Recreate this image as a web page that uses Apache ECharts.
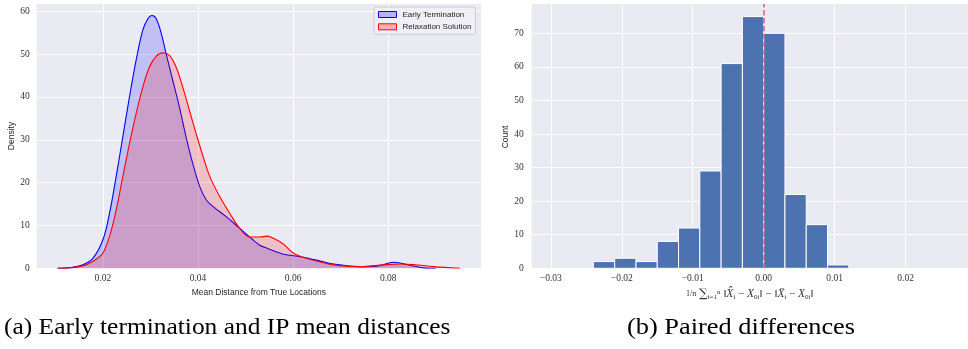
<!DOCTYPE html>
<html>
<head>
<meta charset="utf-8">
<script src="https://cdn.jsdelivr.net/npm/echarts@6/dist/echarts.min.js"></script>
<style>
html,body{margin:0;padding:0;background:#fff;}
#c{width:968px;height:349px;}
</style>
</head>
<body>
<div id="c"></div>
<script>
// ---- Data ----
// KDE of mean distance, Early Termination (blue)
const earlyX = [0.0105,0.0130,0.0158,0.0179,0.0200,0.0214,0.0228,0.0242,0.0256,0.0270,0.0284,0.0295,0.0303,0.0312,0.0323,0.0333,0.0347,0.0361,0.0375,0.0389,0.0404,0.0418,0.0432,0.0460,0.0488,0.0516,0.0530,0.0545,0.0580,0.0615,0.0650,0.0685,0.0741,0.0776,0.0811,0.0846,0.0874,0.0900];
const earlyY = [0,0.15,0.8,2.3,6.6,12.8,21.4,30.7,40,48.6,55.6,58.3,59,58.3,54.8,50.1,43.9,37.7,30.7,24.5,19,15.9,14.4,12,9.3,6.6,5.4,4.7,3.3,2.7,1.9,1.0,0.4,0.5,1.4,0.7,0.1,0];
// KDE of mean distance, Relaxation Solution (red)
const relaxX = [0.0105,0.0137,0.0165,0.0186,0.0200,0.0214,0.0228,0.0242,0.0256,0.0270,0.0284,0.0298,0.0312,0.0326,0.0340,0.0354,0.0368,0.0382,0.0396,0.0411,0.0425,0.0446,0.0467,0.0488,0.0509,0.0530,0.0545,0.0559,0.0580,0.0601,0.0629,0.0685,0.0741,0.0790,0.0825,0.0853,0.0895,0.0951];
const relaxY = [0,0.15,0.8,2.1,3.5,7.4,13.6,21.4,29.1,36.1,42.3,47,49.5,50.3,49.7,47,42.3,36.9,31.5,26,21.4,16.7,12.8,9.3,7.3,7.3,7.5,7.0,5.6,3.5,2.3,0.8,0.4,0.8,1.0,0.9,0.4,0];
// Histogram of paired differences
const binStarts = [-0.024,-0.021,-0.018,-0.015,-0.012,-0.009,-0.006,-0.003,0.000,0.003,0.006,0.009];
const binWidth = 0.003;
const binCounts = [2,3,2,8,12,29,61,75,70,22,13,1];
const refLine = 0;
// Tick values
const leftXTicks = [0.02,0.04,0.06,0.08];
const leftYTicks = [0,10,20,30,40,50,60];
const rightXTicks = [-0.03,-0.02,-0.01,0.00,0.01,0.02];
const rightYTicks = [0,10,20,30,40,50,60,70];
const seriesNames = ['Early Termination','Relaxation Solution'];
const captions = ['(a) Early termination and IP mean distances','(b) Paired differences'];

// ---- Chart ----
const chart = echarts.init(document.getElementById('c'), null, {renderer:'canvas'});
const BG = '#EAEAF2';
const tickFont = {fontFamily:'Liberation Serif', fontSize:9.5, color:'#333'};
const sansFont = 'Liberation Sans';

function pairs(xs, ys){ return xs.map((x,i)=>[x, ys[i]]); }
const histData = binStarts.map((s,i)=>[s, s+binWidth, binCounts[i]]);

function axisX(gridIndex, min, max, ticks, fmt, name, nameGap, nameStyle){
  return {
    type:'value', gridIndex, min, max,
    axisLine:{show:false}, axisTick:{show:false, customValues:ticks},
    splitLine:{show:true, customValues:ticks, lineStyle:{color:'#fff', width:1}},
    axisLabel:Object.assign({customValues:ticks, margin:5, formatter:fmt}, tickFont),
    name, nameLocation:'middle', nameGap, nameTextStyle:nameStyle
  };
}
function axisY(gridIndex, min, max, ticks, margin){
  return {
    type:'value', gridIndex, min, max,
    axisLine:{show:false}, axisTick:{show:false, customValues:ticks},
    splitLine:{show:true, customValues:ticks, lineStyle:{color:'#fff', width:1}},
    axisLabel:Object.assign({customValues:ticks, margin, formatter:v=>String(Math.round(v))}, tickFont)
  };
}

const option = {
  backgroundColor:'#fff',
  animation:false,
  grid:[
    {left:36.7, top:4, width:444.3, height:264.3, show:true, backgroundColor:BG, borderWidth:0},
    {left:531.7, top:4, right:0, height:264.3, show:true, backgroundColor:BG, borderWidth:0}
  ],
  xAxis:[
    axisX(0, 0.0061, 0.0995, leftXTicks, v=>v.toFixed(2), 'Mean Distance from True Locations', 18,
      {fontFamily:sansFont, fontSize:8.5, color:'#262626'}),
    axisX(1, -0.0327, 0.0288, rightXTicks, v=>(Math.abs(v)<1e-9?'0.00':v.toFixed(2).replace('-','\u2212')),
      '{fr|1/n} {op|\u2211}{sb|i=1}{sp|n} \u2016{it|X\u0302}{sb|i} \u2212 {it|X}{sb|0i}\u2016 \u2212 \u2016{it|X\u0304}{sb|i} \u2212 {it|X}{sb|0i}\u2016', 14,
      {fontFamily:'Liberation Serif', fontSize:11, color:'#333',
       rich:{
         fr:{fontFamily:'Liberation Serif', fontSize:8, color:'#333'},
         op:{fontFamily:'DejaVu Serif', fontSize:12, color:'#333'},
         sb:{fontFamily:'Liberation Serif', fontSize:7, color:'#333', verticalAlign:'bottom', padding:[5,0,0,0]},
         sp:{fontFamily:'Liberation Serif', fontSize:7, color:'#333', verticalAlign:'top', padding:[0,0,5,0]},
         it:{fontFamily:'Liberation Serif', fontStyle:'italic', fontSize:11.5, color:'#333'}
       }})
  ],
  yAxis:[
    axisY(0, 0, 61.7, leftYTicks, 7),
    axisY(1, 0, 78.75, rightYTicks, 8)
  ],
  legend:{
    left:374, top:7, orient:'vertical',
    itemWidth:18, itemHeight:6, itemGap:1.3,
    padding:[2,4,2,4],
    backgroundColor:'rgba(240,240,246,0.85)', borderColor:'#cccccc', borderWidth:1, borderRadius:2,
    textStyle:{fontFamily:sansFont, fontSize:8, color:'#262626', lineHeight:11, padding:[0,0,0,1]},
    data:[
      {name:seriesNames[0], icon:'rect', itemStyle:{color:'rgba(0,0,255,0.25)', borderColor:'#0000ff', borderWidth:1}},
      {name:seriesNames[1], icon:'rect', itemStyle:{color:'rgba(255,0,0,0.25)', borderColor:'#ff0000', borderWidth:1}}
    ]
  },
  series:[
    {
      name:seriesNames[0], type:'line', xAxisIndex:0, yAxisIndex:0,
      data:pairs(earlyX, earlyY), smooth:0.35, showSymbol:false, symbol:'none',
      lineStyle:{color:'#0000ff', width:1.1},
      itemStyle:{color:'#0000ff'},
      areaStyle:{color:'rgba(0,0,255,0.25)', origin:'start'},
      z:2
    },
    {
      name:seriesNames[1], type:'line', xAxisIndex:0, yAxisIndex:0,
      data:pairs(relaxX, relaxY), smooth:0.35, showSymbol:false, symbol:'none',
      lineStyle:{color:'#ff0000', width:1.1},
      itemStyle:{color:'#ff0000'},
      areaStyle:{color:'rgba(255,0,0,0.25)', origin:'start'},
      z:3
    },
    {
      name:'hist', type:'custom', xAxisIndex:1, yAxisIndex:1,
      data:histData,
      encode:{x:[0,1], y:2},
      renderItem:function(params, api){
        const p0 = api.coord([api.value(0), api.value(2)]);
        const p1 = api.coord([api.value(1), 0]);
        return {type:'rect', shape:{x:p0[0], y:p0[1], width:p1[0]-p0[0], height:p1[1]-p0[1]},
          style:{fill:'#4C72B0', stroke:'#ffffff', lineWidth:1}};
      },
      markLine:{
        silent:true, symbol:['none','none'], label:{show:false},
        lineStyle:{color:'#D0606A', type:[5.5,2.4], width:1.5},
        data:[{xAxis:refLine}]
      },
      z:2
    }
  ],
  graphic:[
    {type:'text', x:12, y:136, rotation:Math.PI/2,
      style:{text:'Density', fontFamily:sansFont, fontSize:8.5, fill:'#262626', align:'center', verticalAlign:'middle'}},
    {type:'text', x:506, y:137, rotation:Math.PI/2,
      style:{text:'Count', fontFamily:sansFont, fontSize:8.5, fill:'#262626', align:'center', verticalAlign:'middle'}},
    {type:'text', x:4, y:328, scaleX:1.06,
      style:{text:captions[0], fontFamily:'Liberation Serif', fontSize:24, fill:'#000', align:'left', verticalAlign:'middle'}},
    {type:'text', x:741, y:328, scaleX:1.1,
      style:{text:captions[1], fontFamily:'Liberation Serif', fontSize:24, fill:'#000', align:'center', verticalAlign:'middle'}}
  ]
};
chart.setOption(option);
</script>
</body>
</html>
